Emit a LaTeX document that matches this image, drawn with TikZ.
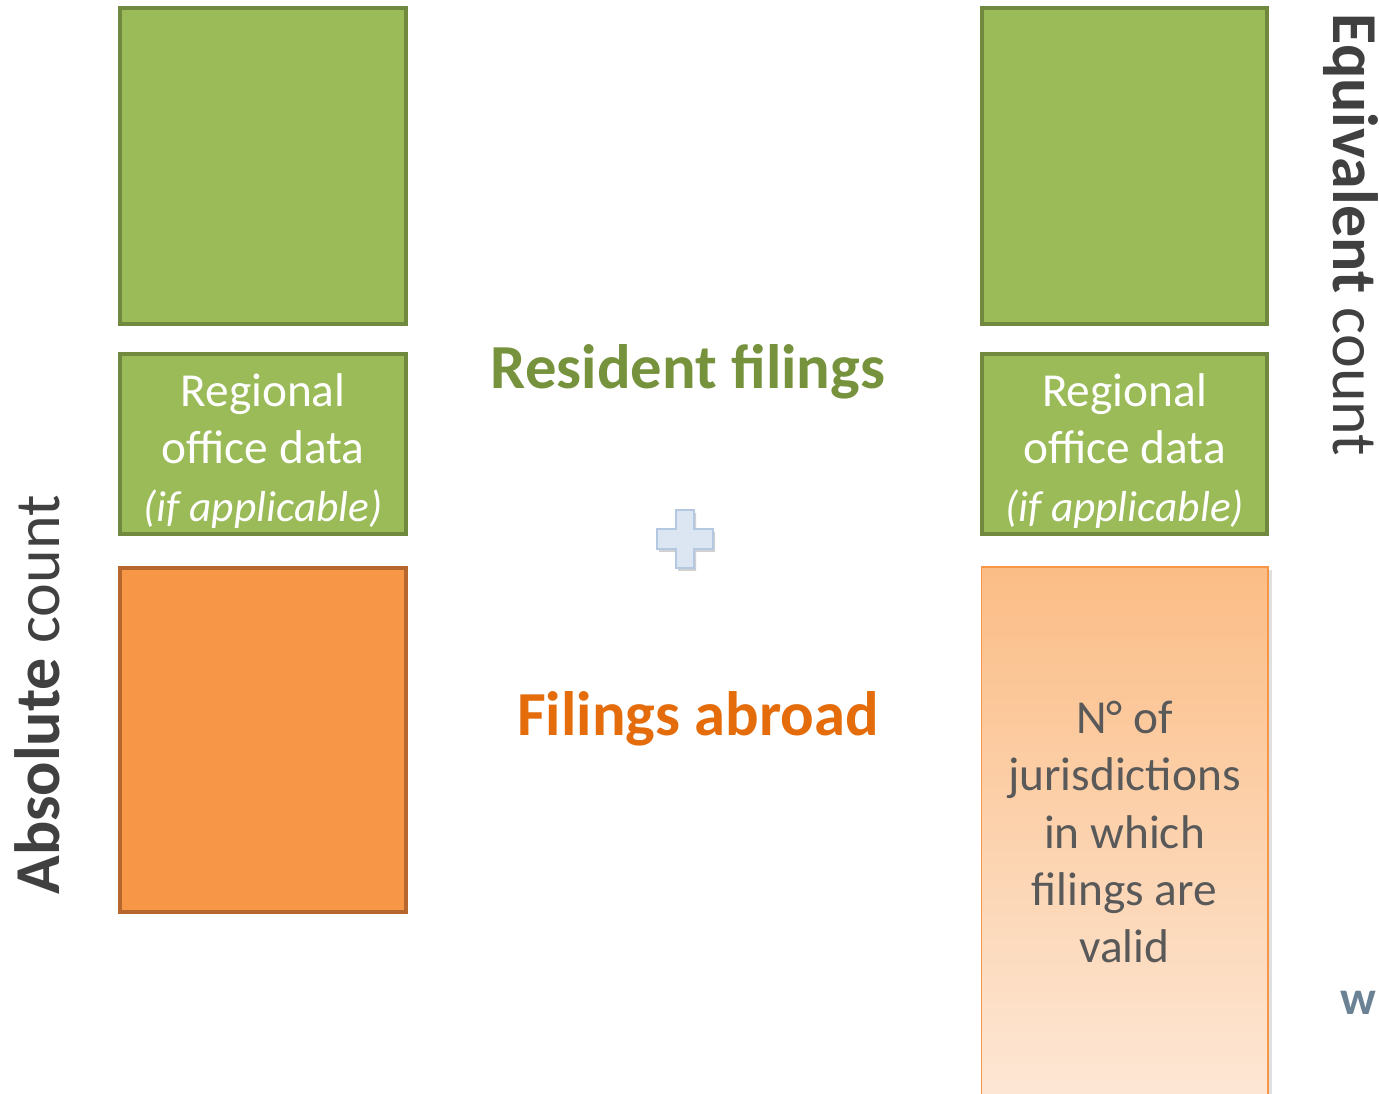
\documentclass[tikz,border=0pt]{standalone}
\usepackage{fontspec}
\setmainfont{Carlito}
\usetikzlibrary{shadows}
\definecolor{gfill}{HTML}{9BBB59}
\definecolor{gline}{HTML}{71893F}
\definecolor{ofill}{HTML}{F79646}
\definecolor{oline}{HTML}{B5672E}
\definecolor{gtext}{HTML}{76923C}
\definecolor{otext}{HTML}{E46C0A}
\definecolor{dtext}{HTML}{595959}
\definecolor{stext}{HTML}{404040}
\definecolor{otop}{HTML}{FBBD86}
\definecolor{obot}{HTML}{FDE8D7}
\definecolor{pfill}{HTML}{DCE6F2}
\definecolor{pline}{HTML}{B4C8E2}
\definecolor{wcol}{HTML}{6B8295}
\tikzset{
  gbox/.style={draw=gline, fill=gfill, line width=3pt, inner sep=0pt},
  obox/.style={draw=oline, fill=ofill, line width=3pt, inner sep=0pt},
  boxtext/.style={text=white, align=center, font=\fontsize{35.5}{43}\selectfont},
  headtext/.style={font=\fontsize{47}{56}\selectfont\bfseries},
  sidetext/.style={text=stext, font=\fontsize{48}{56}\selectfont},
}
\newcommand{\ifapp}{{\fontsize{32.5}{43}\selectfont\itshape (if applicable)}}
\begin{document}
\begin{tikzpicture}[x=0.75pt,y=-0.75pt]
\useasboundingbox (0,0) rectangle (1379,1094);
\fill[white] (0,0) rectangle (1379,1094);
% left column
\node[gbox, minimum width=214.5pt, minimum height=237pt] (ltop) at (263,166) {};
\node[gbox, minimum width=214.5pt, minimum height=135pt] (lreg) at (263,444) {};
\node[boxtext] (lregt) at (263,451) {Regional\\office data\\\ifapp};
\node[obox, minimum width=214.5pt, minimum height=257.25pt] (lorg) at (263,740) {};
% right column
\node[gbox, minimum width=214pt, minimum height=237pt] (rtop) at (1124.5,166) {};
\node[gbox, minimum width=214pt, minimum height=135pt] (rreg) at (1124.5,444) {};
\node[boxtext] (rregt) at (1124.5,451) {Regional\\office data\\\ifapp};
\begin{scope}
\clip (0,0) rectangle (1379,1094);
\fill[black!12] (984,570) rectangle (1272,1110);
\shade[top color=otop, bottom color=obot] (981.5,567) rectangle (1268,1110);
\draw[draw=ofill, line width=1.4pt] (981.5,1110) -- (981.5,567) -- (1268,567) -- (1268,1110);
\end{scope}
\coordinate (rorg) at (1124.5,830);
\node[text=dtext, align=center, font=\fontsize{35.5}{43}\selectfont] (rorgt) at (1124.5,832)
  {N° of\\jurisdictions\\in which\\filings are\\valid};
% centre labels
\node[headtext, text=gtext] (res) at (688,372) {Resident filings};
\node[headtext, text=otext] (abr) at (698,719) {Filings abroad};
% plus sign
\begin{scope}[shift={(685,539)}]
\fill[black!18, shift={(2,3)}] (-9,-29) -- (9,-29) -- (9,-10) -- (28,-10) -- (28,10) -- (9,10) -- (9,29) -- (-9,29) -- (-9,10) -- (-28,10) -- (-28,-10) -- (-9,-10) -- cycle;
\draw[fill=pfill, draw=pline, line width=1.2pt] (-9,-29) -- (9,-29) -- (9,-10) -- (28,-10) -- (28,10) -- (9,10) -- (9,29) -- (-9,29) -- (-9,10) -- (-28,10) -- (-28,-10) -- (-9,-10) -- cycle;
\end{scope}
\node (plus) at (685,539) {};
% side labels
\node[sidetext, rotate=90] (abs) at (37,695) {\textbf{Absolute} count};
\node[sidetext, rotate=-90] (equ) at (1351,235) {\textbf{Equivalent} count};
% w
\node[text=wcol, font=\fontsize{36}{40}\selectfont\bfseries] (w) at (1358,1003) {w};
\end{tikzpicture}
\end{document}
